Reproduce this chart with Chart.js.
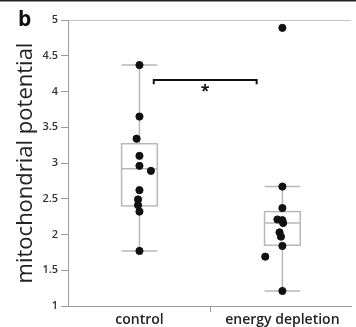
<!DOCTYPE html>
<html>
<head>
<meta charset="utf-8">
<script src="https://cdn.jsdelivr.net/npm/chart.js@4"></script>
<style>
  html, body { margin: 0; padding: 0; background: #fff; }
  #wrap { width: 356px; height: 327px; }
</style>
</head>
<body>
<div id="wrap"><canvas id="chart"></canvas></div>
<script>
const categories = ["control", "energy depletion"];
const controlValues = [4.37, 3.65, 3.34, 3.10, 2.96, 2.89, 2.62, 2.49, 2.41, 2.32, 1.77];
const controlJitter = [0, 0, -0.02, 0, 0, 0.08, 0, -0.01, -0.01, 0, 0];
const depletionValues = [4.89, 2.67, 2.37, 2.21, 2.20, 2.16, 2.03, 1.97, 1.84, 1.69, 1.21];
const depletionJitter = [0, 0, 0, -0.035, 0, 0.005, -0.02, -0.01, 0, -0.12, 0];

// box plot stats per category
const whiskerLow = [1.77, 1.21];
const boxQ1 = [2.40, 1.85];
const boxMedian = [2.92, 2.16];
const boxQ3 = [3.27, 2.32];
const whiskerHigh = [4.37, 2.67];

const bracketX = [0.1, 0.82];
const bracketY = [4.1, 4.16];

const FONT = "'Open Sans', sans-serif";
const BOX_GRAY = "#b8b8b8";
const AXIS_GRAY = "#9a9a9a";

// boxes + whiskers, drawn under the dots
const boxPlugin = {
  id: "boxes",
  beforeDatasetsDraw(chart) {
    const { ctx, scales: { x, y } } = chart;
    ctx.save();
    ctx.strokeStyle = BOX_GRAY;
    ctx.lineWidth = 1.5;
    categories.forEach((_, i) => {
      const cx = x.getPixelForValue(i);
      const left = x.getPixelForValue(i - 0.125);
      const right = x.getPixelForValue(i + 0.125);
      const yLow = y.getPixelForValue(whiskerLow[i]);
      const yHigh = y.getPixelForValue(whiskerHigh[i]);
      const yQ1 = y.getPixelForValue(boxQ1[i]);
      const yQ3 = y.getPixelForValue(boxQ3[i]);
      const yMed = y.getPixelForValue(boxMedian[i]);

      ctx.beginPath();
      ctx.moveTo(cx, yLow);
      ctx.lineTo(cx, yQ1);
      ctx.moveTo(cx, yQ3);
      ctx.lineTo(cx, yHigh);
      ctx.moveTo(left, yLow);
      ctx.lineTo(right, yLow);
      ctx.moveTo(left, yHigh);
      ctx.lineTo(right, yHigh);
      ctx.moveTo(left, yMed);
      ctx.lineTo(right, yMed);
      ctx.stroke();
      ctx.strokeRect(left, yQ3, right - left, yQ1 - yQ3);
    });
    ctx.restore();
  },
  afterDraw(chart) {
    const { ctx, scales: { x, y } } = chart;
    ctx.save();
    // dark strip along the top edge
    ctx.fillStyle = "#222";
    ctx.fillRect(0, 0, chart.width, 1.5);
    // panel letter
    ctx.fillStyle = "#111";
    ctx.font = "bold 21px " + FONT;
    ctx.textBaseline = "alphabetic";
    ctx.fillText("b", 18, 26);
    // significance star
    ctx.font = "bold 16px " + FONT;
    ctx.textAlign = "center";
    ctx.textBaseline = "middle";
    ctx.fillText("*", x.getPixelForValue((bracketX[0] + bracketX[1]) / 2), y.getPixelForValue(bracketY[1]) + 11);
    ctx.restore();
  },
};

const pointStyle = {
  backgroundColor: "#111",
  borderColor: "#111",
  pointRadius: 3.6,
  showLine: false,
};

new Chart(document.getElementById("chart"), {
  type: "scatter",
  data: {
    datasets: [
      {
        label: categories[0],
        data: controlValues.map((v, i) => ({ x: 0 + controlJitter[i], y: v })),
        ...pointStyle,
      },
      {
        label: categories[1],
        data: depletionValues.map((v, i) => ({ x: 1 + depletionJitter[i], y: v })),
        ...pointStyle,
      },
      {
        label: "bracket",
        data: [
          { x: bracketX[0], y: bracketY[0] },
          { x: bracketX[0], y: bracketY[1] },
          { x: bracketX[1], y: bracketY[1] },
          { x: bracketX[1], y: bracketY[0] },
        ],
        showLine: true,
        borderColor: "#111",
        borderWidth: 2,
        pointRadius: 0,
        tension: 0,
      },
    ],
  },
  options: {
    responsive: true,
    maintainAspectRatio: false,
    animation: false,
    layout: { padding: { top: 20, right: 0, bottom: 0, left: 0 } },
    plugins: {
      legend: { display: false },
      tooltip: { enabled: false },
    },
    scales: {
      x: {
        type: "linear",
        min: -0.5,
        max: 1.48,
        afterFit: (scale) => { scale.height = 21; },
        ticks: {
          stepSize: 0.5,
          autoSkip: false,
          maxRotation: 0,
          padding: 0,
          color: "#222",
          font: { family: FONT, size: 14, weight: "600" },
          callback: (v) => (Number.isInteger(v) ? categories[v] : ""),
        },
        grid: {
          drawOnChartArea: false,
          tickLength: 6,
          tickColor: (ctx) => (ctx.tick && ctx.tick.value === 0.5 ? AXIS_GRAY : "transparent"),
        },
        border: { color: AXIS_GRAY, width: 1 },
      },
      y: {
        min: 1,
        max: 5,
        afterFit: (scale) => { scale.width = 68; },
        ticks: {
          stepSize: 0.5,
          padding: 3,
          color: "#333",
          font: { family: FONT, size: 11, weight: "600" },
          callback: (v) => String(v),
        },
        grid: {
          color: (ctx) => (ctx.tick && ctx.tick.value === 5 ? "#c4c4c4" : "transparent"),
          tickColor: AXIS_GRAY,
          tickLength: 7,
        },
        border: { color: AXIS_GRAY, width: 1 },
        title: {
          display: true,
          text: "mitochondrial potential",
          color: "#222",
          font: { family: FONT, size: 22, weight: "400" },
          padding: { top: 13, bottom: 0 },
        },
      },
    },
  },
  plugins: [boxPlugin],
});
</script>
</body>
</html>
